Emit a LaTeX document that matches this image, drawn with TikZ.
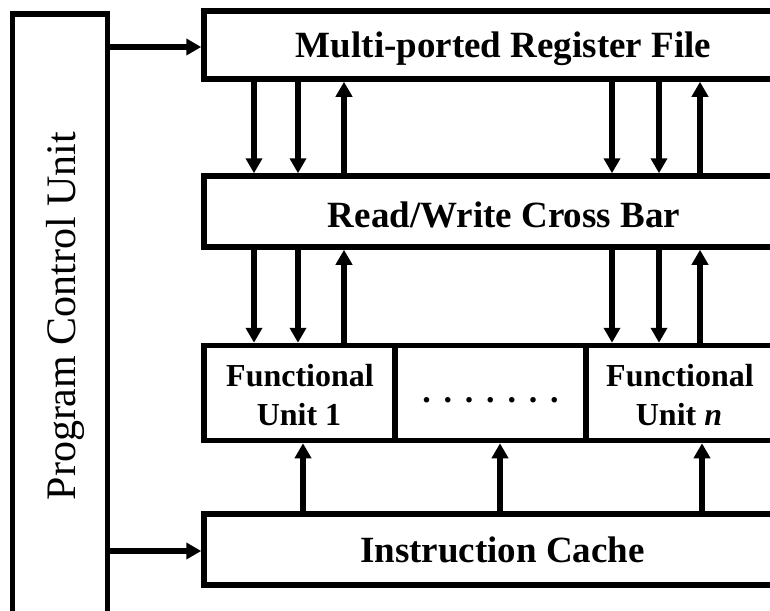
\documentclass[tikz,border=0pt]{standalone}
\usepackage{fontspec}
\setmainfont{Liberation Serif}
\usetikzlibrary{arrows.meta}
\begin{document}
\begin{tikzpicture}[x=1pt,y=-1pt,
  blk/.style={draw, line width=5.5pt, line join=miter, inner sep=0pt},
  lbl/.style={font=\fontsize{37}{40}\selectfont\bfseries, inner sep=0pt, anchor=base},
  fulbl/.style={font=\fontsize{32}{36}\selectfont\bfseries, inner sep=0pt, anchor=base},
  conn/.style={line width=5.5pt, -{Triangle[length=15pt,width=16pt]}},
]
\useasboundingbox (0,0) rectangle (770,610);
% blocks
\node[blk, minimum width=95pt, minimum height=626pt] (pcu) at (60,327) {};
\node[blk, minimum width=573pt, minimum height=68pt] (rf) at (490.5,45) {};
\node[blk, minimum width=573pt, minimum height=71pt] (cb) at (490.5,211.5) {};
\node[blk, minimum width=191pt, minimum height=95pt] (fu1) at (299.5,393) {};
\node[blk, minimum width=191pt, minimum height=95pt] (fud) at (490.5,393) {};
\node[blk, minimum width=191pt, minimum height=95pt] (fun) at (681.5,393) {};
\node[blk, minimum width=573pt, minimum height=71pt] (ic) at (490.5,549.5) {};
% labels
\node[rotate=90, font=\fontsize{42}{46}\selectfont, inner sep=0pt, anchor=base] (pcul) at (75,316) {Program Control Unit};
\node[lbl] (rfl) at (503.5,58) {Multi-ported Register File};
\node[lbl] (cbl) at (504,227) {Read/Write Cross Bar};
\node[lbl] (icl) at (502.5,562) {Instruction Cache};
\node[fulbl] (fu1a) at (300,386) {Functional};
\node[fulbl] (fu1b) at (299,425) {Unit 1};
\node[fulbl] (funa) at (680,386) {Functional};
\node[fulbl] (funb) at (679,425) {Unit \textit{n}};
\node[font=\fontsize{34}{38}\selectfont\bfseries, inner sep=0pt, anchor=base] (dots) at (490.5,402)
  {.\hspace{12.8pt}.\hspace{12.8pt}.\hspace{12.8pt}.\hspace{12.8pt}.\hspace{12.8pt}.\hspace{12.8pt}.};
% column coordinates
\coordinate (c1) at (254,0);
\coordinate (c2) at (298,0);
\coordinate (c3) at (344,0);
\coordinate (c4) at (612,0);
\coordinate (c5) at (659,0);
\coordinate (c6) at (700,0);
\coordinate (u1) at (303,0);
\coordinate (u2) at (500,0);
\coordinate (u3) at (702,0);
\coordinate (r1) at (0,47);
\coordinate (r2) at (0,551);
% control arrows
\draw[conn] (pcu.east |- r1) -- (rf.west |- r1);
\draw[conn] (pcu.east |- r2) -- (ic.west |- r2);
% register file <-> cross bar
\draw[conn] (rf.south -| c1) -- (cb.north -| c1);
\draw[conn] (rf.south -| c2) -- (cb.north -| c2);
\draw[conn] (cb.north -| c3) -- (rf.south -| c3);
\draw[conn] (rf.south -| c4) -- (cb.north -| c4);
\draw[conn] (rf.south -| c5) -- (cb.north -| c5);
\draw[conn] (cb.north -| c6) -- (rf.south -| c6);
% cross bar <-> functional units
\draw[conn] (cb.south -| c1) -- (fu1.north -| c1);
\draw[conn] (cb.south -| c2) -- (fu1.north -| c2);
\draw[conn] (fu1.north -| c3) -- (cb.south -| c3);
\draw[conn] (cb.south -| c4) -- (fun.north -| c4);
\draw[conn] (cb.south -| c5) -- (fun.north -| c5);
\draw[conn] (fun.north -| c6) -- (cb.south -| c6);
% instruction cache -> functional units
\draw[conn] (ic.north -| u1) -- (fu1.south -| u1);
\draw[conn] (ic.north -| u2) -- (fud.south -| u2);
\draw[conn] (ic.north -| u3) -- (fun.south -| u3);
\end{tikzpicture}
\end{document}
